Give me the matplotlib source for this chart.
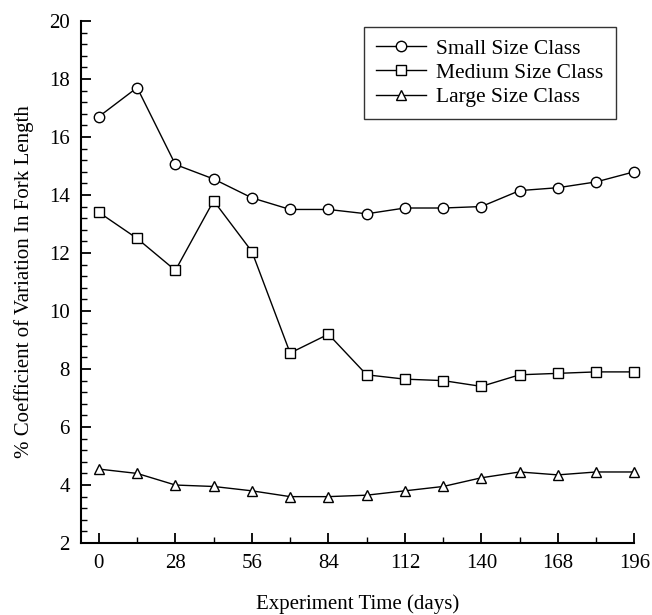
import matplotlib
matplotlib.use("Agg")
import matplotlib.pyplot as plt
from matplotlib.ticker import MultipleLocator

# experiment time in days, sampled every 14 days
days = [0, 14, 28, 42, 56, 70, 84, 98, 112, 126, 140, 154, 168, 182, 196]
small = [16.7, 17.7, 15.05, 14.55, 13.9, 13.5, 13.5, 13.35, 13.55, 13.55, 13.6, 14.15, 14.25, 14.45, 14.8]
medium = [13.4, 12.5, 11.4, 13.8, 12.05, 8.55, 9.2, 7.8, 7.65, 7.6, 7.4, 7.8, 7.85, 7.9, 7.9]
large = [4.55, 4.4, 4.0, 3.95, 3.8, 3.6, 3.6, 3.65, 3.8, 3.95, 4.25, 4.45, 4.35, 4.45, 4.45]
labels = ['Small Size Class', 'Medium Size Class', 'Large Size Class']
markers = ['o', 's', '^']

plt.rcParams['font.family'] = ['Liberation Serif', 'DejaVu Serif']

fig = plt.figure(figsize=(6.52, 6.15), dpi=100)
ax = fig.add_axes([0.124, 0.117, 0.849, 0.849])

for vals, lab, m in zip([small, medium, large], labels, markers):
  ax.plot(days, vals, '-', color='black', lw=1.0, marker=m, ms=7.5,
          mfc='white', mec='black', mew=1.0, label=lab, clip_on=False)

ax.set_xlim(-6.6, 196)
ax.set_ylim(2, 20)
ax.xaxis.set_major_locator(MultipleLocator(28))
ax.xaxis.set_minor_locator(MultipleLocator(14))
ax.yaxis.set_major_locator(MultipleLocator(2))
ax.yaxis.set_minor_locator(MultipleLocator(0.4))
ax.spines['top'].set_visible(False)
ax.spines['right'].set_visible(False)
ax.spines['left'].set_linewidth(1.5)
ax.spines['bottom'].set_linewidth(1.5)
ax.tick_params(which='major', direction='in', length=7, width=1.3, labelsize=15, pad=8)
ax.tick_params(which='minor', direction='in', length=4, width=1.0)

ax.set_xlabel('Experiment Time (days)', fontsize=15, labelpad=15)
ax.set_ylabel('% Coefficient of Variation In Fork Length', fontsize=15, labelpad=11)

leg = ax.legend(loc='upper right', bbox_to_anchor=(0.966, 0.989), fontsize=15.5,
                frameon=True, fancybox=False, edgecolor='black', handlelength=2.3,
                handletextpad=0.5, borderpad=0.55, labelspacing=0.2, borderaxespad=0)
leg.get_frame().set_linewidth(1.0)

fig.savefig('out.png', dpi=100)
